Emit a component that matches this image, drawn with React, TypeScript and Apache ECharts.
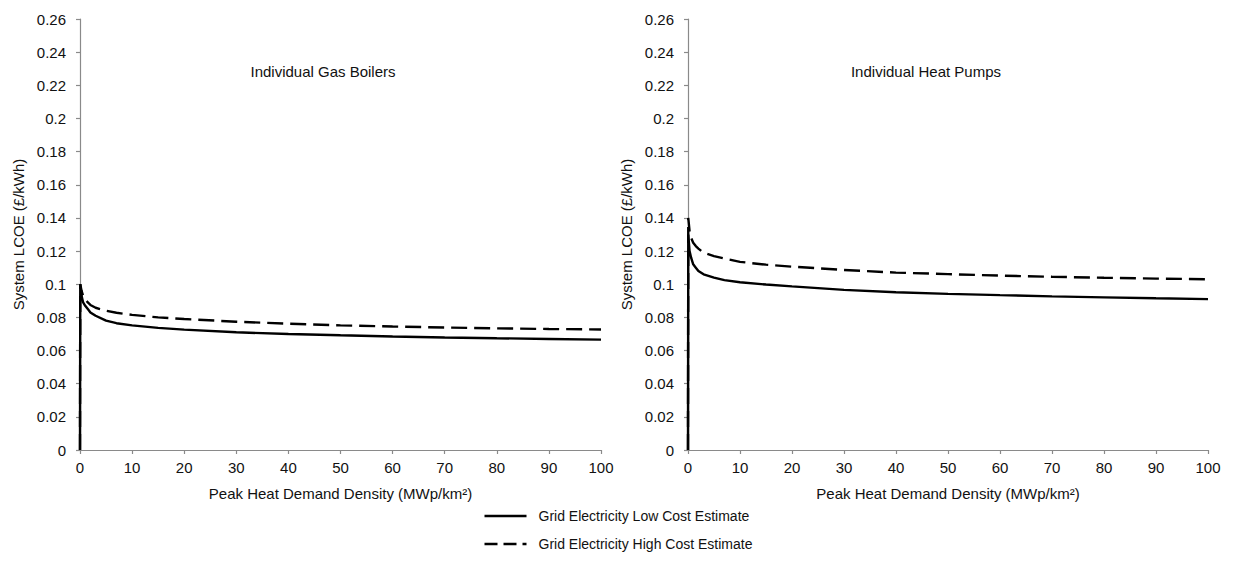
import React, { useEffect, useRef } from "react";
import * as echarts from "echarts";

const xValues = [0, 0.05, 0.3, 0.6, 1, 1.5, 2, 3, 5, 7, 10, 15, 20, 30, 40, 50, 60, 70, 80, 90, 100];

const gasLow = [0, 0.1, 0.093, 0.089, 0.087, 0.085, 0.083, 0.081, 0.078, 0.0765, 0.0752, 0.0737, 0.0726, 0.071, 0.07, 0.0692, 0.0685, 0.0679, 0.0674, 0.067, 0.0666];
const gasHigh = [0, 0.1, 0.096, 0.093, 0.091, 0.089, 0.0875, 0.0858, 0.084, 0.0828, 0.0815, 0.08, 0.079, 0.0774, 0.0762, 0.0752, 0.0745, 0.0739, 0.0734, 0.073, 0.0727];

const hpLow = [0, 0.13, 0.12, 0.116, 0.112, 0.11, 0.108, 0.106, 0.104, 0.1025, 0.1012, 0.0998, 0.0987, 0.0966, 0.0952, 0.0942, 0.0934, 0.0927, 0.0921, 0.0915, 0.091];
const hpHigh = [0, 0.14, 0.132, 0.128, 0.125, 0.123, 0.1215, 0.119, 0.117, 0.1155, 0.1135, 0.1118, 0.1106, 0.1086, 0.107, 0.1061, 0.1052, 0.1045, 0.1039, 0.1034, 0.103];

const panelTitles = ["Individual Gas Boilers", "Individual Heat Pumps"];
const seriesNames = ["Grid Electricity Low Cost Estimate", "Grid Electricity High Cost Estimate"];
const yAxisName = "System LCOE (£/kWh)";
const xAxisName = "Peak Heat Demand Density (MWp/km²)";

const FONT = "'Liberation Sans', Arial, sans-serif";
const DASH = [16, 7];

const pairs = (ys: number[]) => xValues.map((x, i) => [x, ys[i]]);

export default function App() {
  const ref = useRef<HTMLDivElement>(null);
  useEffect(() => {
    if (!ref.current) return;
    const chart = echarts.init(ref.current, null, { renderer: "svg" });
    const axisLine = { show: true, lineStyle: { color: "#8a8a8a", width: 1.2 } };
    const axisTick = { show: true, inside: false, length: 4, lineStyle: { color: "#8a8a8a", width: 1.2 } };
    const mkX = (gi: number) => ({
      type: "value",
      gridIndex: gi,
      min: 0,
      max: 100,
      interval: 10,
      axisLine,
      axisTick,
      splitLine: { show: false },
      axisLabel: { color: "#111", fontSize: 15, fontFamily: FONT, margin: 10 },
      name: xAxisName,
      nameLocation: "middle",
      nameGap: 36,
      nameTextStyle: { color: "#111", fontSize: 15, fontFamily: FONT },
    });
    const mkY = (gi: number) => ({
      type: "value",
      gridIndex: gi,
      min: 0,
      max: 0.26,
      interval: 0.02,
      axisLine,
      axisTick,
      splitLine: { show: false },
      axisLabel: {
        color: "#111",
        fontSize: 15,
        fontFamily: FONT,
        margin: 14,
        formatter: (v: number) => String(parseFloat(v.toFixed(2))),
      },
      name: yAxisName,
      nameLocation: "middle",
      nameGap: 54,
      nameTextStyle: { color: "#111", fontSize: 15, fontFamily: FONT },
    });
    const low = { color: "#000", width: 2.4, type: "solid" };
    const high = { color: "#000", width: 2.4, type: DASH };
    const mkSeries = (name: string, ys: number[], gi: number, ls: any) => ({
      type: "line",
      name,
      xAxisIndex: gi,
      yAxisIndex: gi,
      data: pairs(ys),
      symbol: "none",
      smooth: false,
      lineStyle: ls,
      itemStyle: { color: "#000" },
    });
    const legendRows = seriesNames.map((name, i) => ({
      type: "group",
      left: 482,
      top: 509 + i * 28,
      children: [
        {
          type: "line",
          shape: { x1: 0, y1: 8, x2: 42, y2: 8 },
          style: { stroke: "#000", lineWidth: 2.4, lineDash: i === 0 ? null : [13, 6] },
        },
        {
          type: "text",
          x: 54,
          y: 8,
          style: { text: name, fill: "#111", fontSize: 14, fontFamily: FONT, verticalAlign: "middle", align: "left" },
        },
      ],
    }));
    chart.setOption({
      animation: false,
      backgroundColor: "#fff",
      grid: [
        { left: 80, top: 19, width: 521, height: 431 },
        { left: 688, top: 19, width: 520, height: 431 },
      ],
      xAxis: [mkX(0), mkX(1)],
      yAxis: [mkY(0), mkY(1)],
      title: [
        { text: panelTitles[0], left: 318, top: 59, textAlign: "center", textStyle: { color: "#111", fontSize: 15, fontWeight: "normal", fontFamily: FONT } },
        { text: panelTitles[1], left: 921, top: 59, textAlign: "center", textStyle: { color: "#111", fontSize: 15, fontWeight: "normal", fontFamily: FONT } },
      ],
      graphic: legendRows,
      series: [
        mkSeries(seriesNames[0], gasLow, 0, low),
        mkSeries(seriesNames[1], gasHigh, 0, high),
        mkSeries(seriesNames[0], hpLow, 1, low),
        mkSeries(seriesNames[1], hpHigh, 1, high),
      ],
    });
    return () => chart.dispose();
  }, []);
  return (
    <div
      ref={ref}
      style={{ position: "fixed", left: 0, top: 0, width: 1234, height: 582, background: "#fff" }}
    />
  );
}
